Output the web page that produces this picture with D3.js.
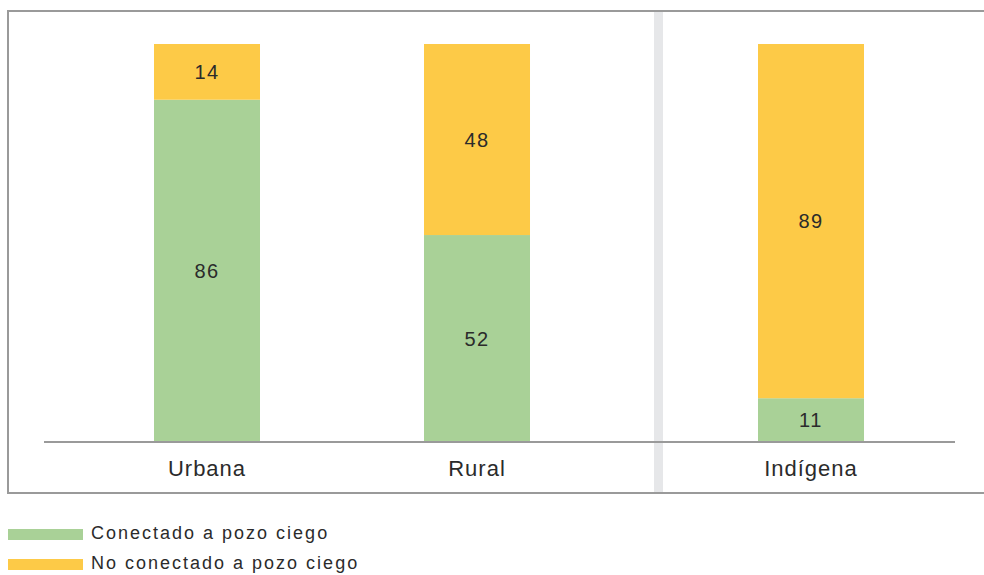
<!DOCTYPE html>
<html lang="es">
  <head>
    <meta charset="UTF-8" />
    <title>Conexión a pozo ciego</title>
    <script src="https://d3js.org/d3.v7.min.js"></script>
    <style>
      body {
        margin: 0;
        padding: 0;
        background: #fff;
        font-family: "Liberation Sans", Arial, sans-serif;
      }
      svg {
        display: block;
      }
      .value-label {
        font-size: 20px;
        letter-spacing: 1.5px;
        fill: #2b2b2b;
        text-anchor: middle;
      }
      .cat-label {
        font-size: 22px;
        letter-spacing: 1px;
        fill: #2b2b2b;
        text-anchor: middle;
      }
      .legend text {
        font-size: 18px;
        letter-spacing: 2px;
        fill: #2b2b2b;
      }
    </style>
  </head>
  <body>
    <script>
      // Data (percent)
      const categories = ["Urbana", "Rural", "Indígena"];
      const conectado = [86, 52, 11];
      const noConectado = [14, 48, 89];
      const seriesNames = ["Conectado a pozo ciego", "No conectado a pozo ciego"];
      const colors = ["#a9d197", "#fdca47"];
      // Indígena sits in its own panel, slightly further apart
      const groupIndex = [0, 0, 1];

      const width = 984,
            height = 575;

      const svg = d3.select("body")
                    .append("svg")
                    .attr("width", width)
                    .attr("height", height);

      // Outer frame (runs off the right edge)
      svg.append("rect")
         .attr("x", 8)
         .attr("y", 11)
         .attr("width", 990)
         .attr("height", 482)
         .attr("fill", "none")
         .attr("stroke", "#9a9a9a")
         .attr("stroke-width", 2);

      // Panel separator
      svg.append("rect")
         .attr("x", 654)
         .attr("y", 12)
         .attr("width", 9)
         .attr("height", 480)
         .attr("fill", "#e6e7e9");

      // Scales
      const groupGap = 0.237;
      const slot = (i) => i + groupGap * groupIndex[i];
      const xScale = d3.scaleLinear()
                       .domain([0, slot(2)])
                       .range([207, 811]);
      const barWidth = 106;
      const yScale = d3.scaleLinear()
                       .domain([0, 100])
                       .range([442, 44]);

      // Stack the two series
      const rows = categories.map((c, i) => ({
        category: c, i: i, s0: conectado[i], s1: noConectado[i]
      }));
      const stack = d3.stack().keys(["s0", "s1"]);
      const stacked = stack(rows);

      const layers = svg.append("g")
                        .selectAll("g")
                        .data(stacked)
                        .join("g")
                        .attr("fill", (d, k) => colors[k]);

      layers.selectAll("rect")
            .data(d => d)
            .join("rect")
            .attr("x", d => xScale(slot(d.data.i)) - barWidth / 2)
            .attr("width", barWidth)
            .attr("y", d => yScale(d[1]))
            .attr("height", d => yScale(d[0]) - yScale(d[1]));

      // Value labels in the middle of each segment
      layers.selectAll("text")
            .data(d => d)
            .join("text")
            .attr("class", "value-label")
            .attr("x", d => xScale(slot(d.data.i)))
            .attr("y", d => (yScale(d[0]) + yScale(d[1])) / 2)
            .attr("dy", "0.36em")
            .text(d => d[1] - d[0]);

      // Baseline
      svg.append("line")
         .attr("x1", 44)
         .attr("x2", 955)
         .attr("y1", yScale(0))
         .attr("y2", yScale(0))
         .attr("stroke", "#9a9a9a")
         .attr("stroke-width", 2);

      // Category labels
      svg.append("g")
         .selectAll("text")
         .data(categories)
         .join("text")
         .attr("class", "cat-label")
         .attr("x", (d, i) => xScale(slot(i)))
         .attr("y", 476)
         .text(d => d);

      // Legend
      const legend = svg.append("g")
                        .attr("class", "legend")
                        .selectAll("g")
                        .data(seriesNames)
                        .join("g")
                        .attr("transform", (d, i) => `translate(8, ${529 + i * 30})`);
      legend.append("rect")
            .attr("width", 75)
            .attr("height", 11)
            .attr("fill", (d, i) => colors[i]);
      legend.append("text")
            .attr("x", 83)
            .attr("y", 10)
            .text(d => d);
    </script>
  </body>
</html>
